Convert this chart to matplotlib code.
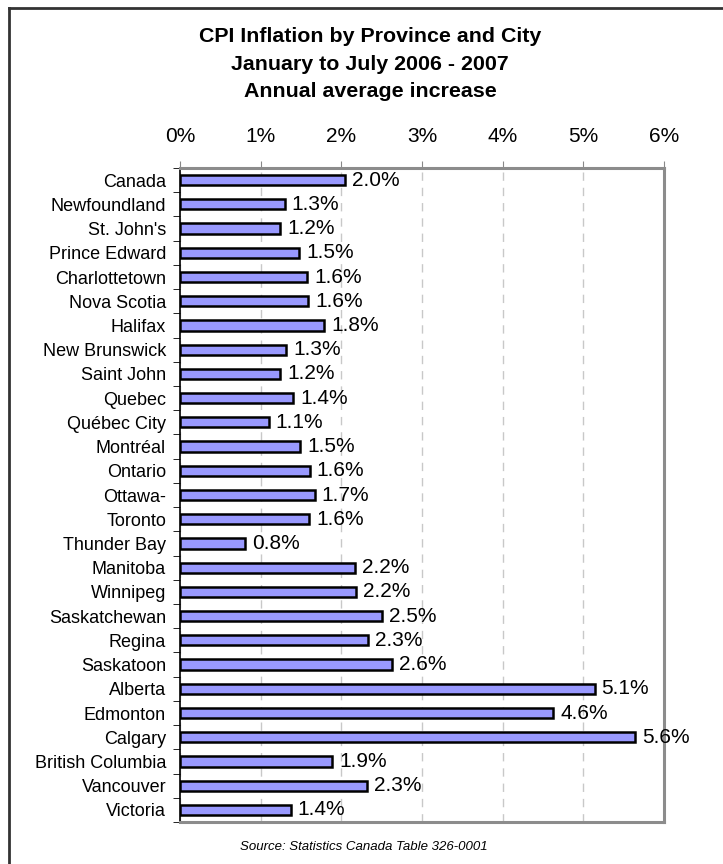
import numpy as np
import matplotlib.pyplot as plt
from matplotlib.lines import Line2D

plt.rcParams['font.family'] = ['Liberation Sans', 'DejaVu Sans']

# places, top to bottom
places = ["Canada", "Newfoundland", "St. John's", "Prince Edward", "Charlottetown",
          "Nova Scotia", "Halifax", "New Brunswick", "Saint John", "Quebec",
          "Québec City", "Montréal", "Ontario", "Ottawa-", "Toronto", "Thunder Bay",
          "Manitoba", "Winnipeg", "Saskatchewan", "Regina", "Saskatoon", "Alberta",
          "Edmonton", "Calgary", "British Columbia", "Vancouver", "Victoria"]
# annual average increase in %
increase = [2.04, 1.30, 1.24, 1.48, 1.58,
            1.59, 1.79, 1.32, 1.24, 1.40,
            1.10, 1.49, 1.61, 1.67, 1.60, 0.81,
            2.17, 2.18, 2.50, 2.33, 2.63, 5.14,
            4.63, 5.64, 1.89, 2.32, 1.37]
xticks = [0, 1, 2, 3, 4, 5, 6]

fig = plt.figure(figsize=(7.23, 8.64), dpi=100)
ax = fig.add_axes([180 / 723, 1 - 822 / 864, (664 - 180) / 723, (822 - 168) / 864])

ypos = np.arange(len(places))
ax.barh(ypos, increase, height=0.42, color='#9999FF', edgecolor='black', linewidth=1.8, zorder=3)

for y, v in zip(ypos, increase):
    ax.annotate(f"{v:.1f}%", (v, y), xytext=(5, 0), textcoords='offset points',
                va='center', ha='left', fontsize=15, zorder=4, annotation_clip=False)

ax.set_xlim(0, 6)
ax.set_ylim(len(places) - 0.5, -0.5)
ax.set_xticks(xticks)
ax.set_xticklabels([f"{t}%" for t in xticks], fontsize=15)
ax.xaxis.tick_top()
ax.tick_params(axis='x', direction='out', length=5, pad=11, color='#888888')
ax.grid(axis='x', linestyle=(0, (6, 5)), color='#C8C8C8', linewidth=1, zorder=0)

# category labels at bar centres, tick marks between the bars
ax.set_yticks(ypos)
ax.set_yticklabels(places, fontsize=13)
ax.set_yticks(np.arange(-0.5, len(places)), minor=True)
ax.tick_params(axis='y', which='major', length=0, pad=10)
ax.tick_params(axis='y', which='minor', length=5, direction='out', color='black')

ax.spines['left'].set_color('black')
ax.spines['left'].set_linewidth(1.2)
for s in ['top', 'right', 'bottom']:
    ax.spines[s].set_color('#8C8C8C')
    ax.spines[s].set_linewidth(2.2)

fig.text(370 / 723, 1 - 42 / 864, "CPI Inflation by Province and City", ha='center', va='baseline',
         fontsize=15.4, fontweight='bold')
fig.text(370 / 723, 1 - 70 / 864, "January to July 2006 - 2007", ha='center', va='baseline',
         fontsize=15.4, fontweight='bold')
fig.text(370 / 723, 1 - 97 / 864, "Annual average increase", ha='center', va='baseline',
         fontsize=15.4, fontweight='bold')
fig.text(364 / 723, 1 - 847 / 864, "Source: Statistics Canada Table 326-0001", ha='center', va='center',
         fontsize=9.5, style='italic')

# chart border (only top and left visible in the crop)
fig.add_artist(Line2D([9 / 723, 9 / 723], [0, 1 - 8 / 864], transform=fig.transFigure, color='#333333', linewidth=2))
fig.add_artist(Line2D([9 / 723, 1], [1 - 8 / 864, 1 - 8 / 864], transform=fig.transFigure, color='#333333', linewidth=2))

fig.savefig('out.png', dpi=100)
